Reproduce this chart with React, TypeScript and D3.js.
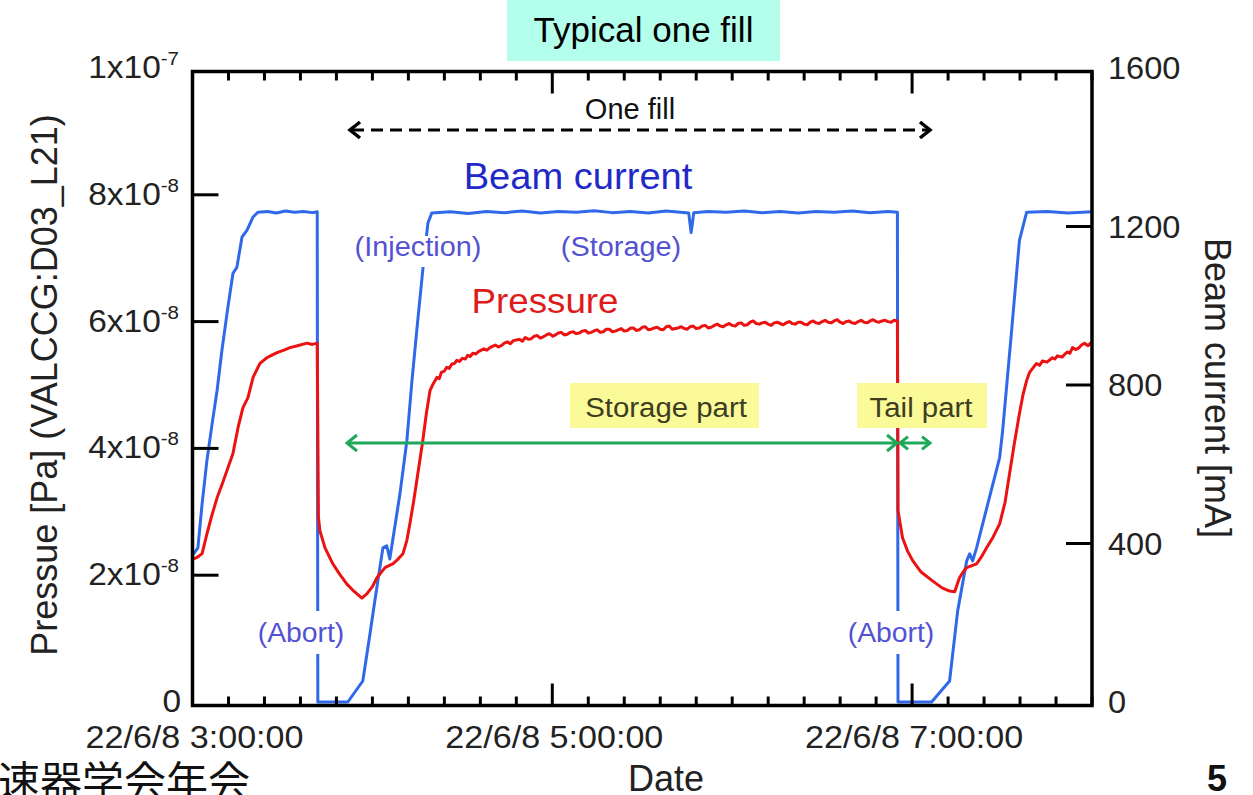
import React from 'react';
import * as d3 from 'd3';

const W = 1253;
const H = 795;
const START = new Date(2022, 5, 8, 3, 0, 0);
const END = new Date(2022, 5, 8, 8, 0, 0);
const toDate = (m: number) => new Date(START.getTime() + m * 60000);
const PRESSURE_UNIT = 1e-8;

// [minutes after 03:00, pressure in 1e-8 Pa]
const pressure: [number, number][] = [
  [0, 2.25], [1.5, 2.28], [3.2, 2.34], [4.8, 2.65], [6.5, 2.95], [8.2, 3.22], [10, 3.45], [11.5, 3.65],
  [13.5, 3.92], [15.2, 4.33], [16.8, 4.64], [18.5, 4.8], [20.2, 5.12], [22.5, 5.34], [24.8, 5.43],
  [26.5, 5.47], [28.2, 5.51], [30.5, 5.55], [32.5, 5.59], [35, 5.62], [38.2, 5.66], [40, 5.64], [41.6, 5.66],
  [42.0, 2.91], [42.5, 2.7], [44.2, 2.43], [46.8, 2.18], [49, 2.02], [51.5, 1.86], [54, 1.74], [56.5, 1.64],
  [58.2, 1.71], [60, 1.82], [61.5, 1.96], [64.2, 2.12], [65.5, 2.15], [66.8, 2.18], [68.5, 2.25], [70.2, 2.34],
  [71.5, 2.55], [72.5, 2.81], [73.8, 3.18], [74.8, 3.49], [76.8, 4.12], [78, 4.55], [79.2, 4.91], [80.3, 5.02],
  [81.5, 5.12], [82.3, 5.1], [83, 5.2], [84, 5.22], [84.8, 5.28], [85.6, 5.26], [86.5, 5.33], [87.4, 5.34],
  [88.2, 5.39], [89, 5.37], [90, 5.42], [91, 5.41], [91.8, 5.47], [92.6, 5.45], [93.5, 5.5], [94.5, 5.49],
  [95.5, 5.53], [96.3, 5.55], [97.2, 5.57], [98.2, 5.55], [99.2, 5.59], [100, 5.61], [101, 5.63], [102, 5.6],
  [103, 5.62], [104, 5.66], [105, 5.68], [106, 5.65], [107, 5.7], [108, 5.71], [109, 5.72], [110, 5.69],
  [111, 5.75], [112, 5.72], [113, 5.73], [114, 5.77], [115, 5.78], [116, 5.74], [117, 5.76], [118, 5.79],
  [119, 5.81], [120.2, 5.77], [121, 5.79], [122, 5.82], [123, 5.83], [124, 5.79], [125, 5.8], [126, 5.83],
  [127, 5.84], [128, 5.81], [129, 5.82], [130, 5.85], [131, 5.86], [132, 5.82], [133, 5.83], [134.2, 5.86],
  [135, 5.87], [136, 5.83], [137, 5.84], [138, 5.88], [139, 5.88], [140, 5.84], [141, 5.85], [142, 5.87],
  [143, 5.89], [144, 5.85], [145, 5.86], [146.2, 5.9], [147, 5.9], [148, 5.86], [149, 5.87], [150, 5.91],
  [151, 5.92], [152, 5.87], [153, 5.88], [154, 5.9], [155, 5.91], [156, 5.88], [157, 5.87], [158, 5.92],
  [159, 5.93], [160, 5.88], [161, 5.89], [162, 5.9], [163, 5.92], [164, 5.89], [165, 5.88], [166, 5.92],
  [167, 5.93], [168, 5.89], [169, 5.9], [170, 5.93], [171, 5.94], [172, 5.9], [173, 5.91], [174, 5.94],
  [175, 5.96], [176, 5.93], [177, 5.92], [178, 5.95], [179, 5.97], [180, 5.94], [181, 5.93], [182, 5.97],
  [183, 5.98], [184, 5.94], [185, 5.95], [186, 5.99], [187, 6.01], [188, 5.97], [189, 5.96], [190, 5.98],
  [191, 5.99], [192, 5.96], [193, 5.94], [194, 5.98], [195, 5.99], [196, 5.97], [197, 5.95], [198, 5.98],
  [199, 6.0], [200, 5.97], [201, 5.96], [202, 5.99], [203, 5.99], [204, 5.96], [205, 5.95], [206, 5.99],
  [207, 6.01], [208, 5.98], [209, 5.97], [210, 6.0], [211, 6.02], [212, 5.99], [213, 5.98], [214, 6.01],
  [215, 6.03], [216, 5.99], [217, 5.97], [218, 6.0], [219, 6.01], [220, 5.98], [221, 5.97], [222, 6.0],
  [223, 6.02], [224, 5.99], [225, 5.98], [226, 6.01], [227, 6.03], [228, 6.0], [229, 5.99], [230, 6.01],
  [231, 6.02], [232, 6.0], [233, 5.99], [234, 6.02], [235.1, 6.01],
  [235.3, 3.02], [236.8, 2.59], [238.5, 2.38], [240.2, 2.23], [243, 2.05], [246.8, 1.91], [250, 1.8],
  [252.5, 1.75], [254.2, 1.74], [255.8, 1.96], [257, 2.05], [258.2, 2.12], [261.5, 2.18], [263, 2.28],
  [264.8, 2.43], [267, 2.6], [269.2, 2.81], [271, 3.15], [272.5, 3.6], [274, 4.05], [275.8, 4.55], [277, 4.85],
  [278.2, 5.07], [279.2, 5.2], [280, 5.25], [281.5, 5.34], [282.5, 5.31], [283.5, 5.38], [285, 5.36],
  [286.8, 5.43], [287.6, 5.41], [288.5, 5.46], [290, 5.44], [291, 5.49], [291.8, 5.52], [292.6, 5.5],
  [293.5, 5.59], [294.5, 5.56], [295.5, 5.58], [296.5, 5.63], [297.5, 5.66], [298.7, 5.62], [300, 5.68],
];

// [minutes after 03:00, beam current in mA]
const beamCurrent: [number, number][] = [
  [0, 370], [1.8, 389], [3.2, 500], [4.8, 609], [6.5, 700], [8.2, 786], [9.8, 887], [11.8, 996], [13.5, 1082],
  [14.8, 1097], [16.5, 1173], [18.2, 1191], [20.2, 1224], [21.8, 1236], [25, 1238], [28, 1234], [31, 1239],
  [34, 1236], [37, 1238], [40, 1235], [41.6, 1237], [41.8, 0], [51.8, 0], [56.8, 53], [59.2, 172], [60.8, 255],
  [63.5, 389], [64.8, 394], [65.8, 361], [69.2, 526], [71.5, 660], [73.2, 811], [74.8, 938], [76.8, 1090],
  [78.5, 1208], [79.8, 1234], [86, 1237], [92, 1233], [98, 1238], [104, 1235], [110, 1239], [116, 1234],
  [122, 1238], [128, 1236], [134, 1240], [140, 1235], [146, 1238], [152, 1234], [158, 1239], [165.5, 1234],
  [166.3, 1185], [167.2, 1235], [172, 1238], [178, 1236], [184, 1239], [190, 1235], [196, 1238], [202, 1234],
  [208, 1238], [214, 1236], [220, 1239], [226, 1235], [232, 1238], [235.1, 1236], [235.3, 0], [246.5, 0],
  [252.5, 53], [255.2, 230], [258.2, 356], [259.2, 374], [260.2, 356], [261.5, 389], [269.2, 617], [270.2, 685],
  [273.2, 938], [275.8, 1165], [278.2, 1236], [285, 1238], [292, 1234], [300, 1237],
];

const pressureTicks = [0, 2e-8, 4e-8, 6e-8, 8e-8, 1e-7];
const pressureTickMantissa = ['0', '2x10', '4x10', '6x10', '8x10', '1x10'];
const pressureTickExponent = ['', '-8', '-8', '-8', '-8', '-7'];
const currentTicks = [0, 400, 800, 1200, 1600];
const majorTickMinutes = [0, 120, 240];
const timeTickLabels = ['22/6/8 3:00:00', '22/6/8 5:00:00', '22/6/8 7:00:00'];

const FONT = "'Liberation Sans', Arial, Helvetica, sans-serif";
const BLUE = '#3068ea';
const RED = '#ec1212';
const GREEN = '#1fa85a';
const LABEL_BLUE = '#5252d2';

export default function App() {
  const FL = 192.5, FR = 1092, FT = 71.5, FB = 705.5;
  const x = d3.scaleTime().domain([START, END]).range([FL, FR]);
  const yP = d3.scaleLinear().domain([0, 1e-7]).range([702, 68]);
  const yC = d3.scaleLinear().domain([0, 1600]).range([702, 68]);

  const currentLine = d3.line<[number, number]>().x(d => x(toDate(d[0]))).y(d => yC(d[1]));
  const pressureLine = d3.line<[number, number]>().x(d => x(toDate(d[0]))).y(d => yP(d[1] * PRESSURE_UNIT));

  const minorMinutes = d3.range(0, 301, 12).filter(m => !majorTickMinutes.includes(m));
  const SX = 1.08;

  const chevL = (tx: number, ty: number, s: number) => `M${tx + s},${ty - s * 0.8} L${tx},${ty} L${tx + s},${ty + s * 0.8}`;
  const chevR = (tx: number, ty: number, s: number) => `M${tx - s},${ty - s * 0.8} L${tx},${ty} L${tx - s},${ty + s * 0.8}`;

  return (
    <svg width={W} height={H} style={{ position: 'absolute', left: 0, top: 0, background: '#fff' }} fontFamily={FONT}>
      <rect x={0} y={0} width={W} height={H} fill="#fff" />

      {/* Title */}
      <rect x={507} y={0} width={273} height={61} fill="#b4ffeb" />
      <text x={643.5} y={42} fontSize={35} textAnchor="middle" fill="#000">Typical one fill</text>

      {/* Data lines */}
      <path d={currentLine(beamCurrent) || ''} fill="none" stroke={BLUE} strokeWidth={3} strokeLinejoin="round" />
      <path d={pressureLine(pressure) || ''} fill="none" stroke={RED} strokeWidth={3} strokeLinejoin="round" />

      {/* Frame */}
      <rect x={FL} y={FT} width={FR - FL} height={FB - FT} fill="none" stroke="#000" strokeWidth={3.5} />

      {/* X ticks */}
      {majorTickMinutes.map(m => (
        <g key={'M' + m}>
          <line x1={x(toDate(m))} x2={x(toDate(m))} y1={FB} y2={FB - 22} stroke="#000" strokeWidth={3} />
          <line x1={x(toDate(m))} x2={x(toDate(m))} y1={FT} y2={FT + 22} stroke="#000" strokeWidth={3} />
        </g>
      ))}
      {minorMinutes.map(m => (
        <g key={'m' + m}>
          <line x1={x(toDate(m))} x2={x(toDate(m))} y1={FB} y2={FB - 9} stroke="#000" strokeWidth={3} />
          <line x1={x(toDate(m))} x2={x(toDate(m))} y1={FT} y2={FT + 9} stroke="#000" strokeWidth={3} />
        </g>
      ))}
      {majorTickMinutes.map((m, i) => (
        <text key={'xl' + m} transform={`translate(${x(toDate(m)) + 2},748) scale(1.1,1)`} fontSize={31} textAnchor="middle" fill="#222">
          {timeTickLabels[i]}
        </text>
      ))}

      {/* Left axis ticks */}
      {pressureTicks.map((v, i) => (
        <g key={'yl' + i}>
          {v > 0 && v < 1e-7 && <line x1={FL} x2={FL + 26} y1={yP(v)} y2={yP(v)} stroke="#000" strokeWidth={3} />}
          <text transform={`translate(${v === 0 ? 181 : 179},${yP(v) + 10}) scale(${SX},1)`} fontSize={31} textAnchor="end" fill="#222">
            <tspan>{pressureTickMantissa[i]}</tspan>
            {pressureTickExponent[i] && <tspan dy={-13} fontSize={19}>{pressureTickExponent[i]}</tspan>}
          </text>
        </g>
      ))}

      {/* Right axis ticks */}
      {currentTicks.map((v, i) => (
        <g key={'yr' + i}>
          {v > 0 && v < 1600 && <line x1={FR - 26} x2={FR} y1={yC(v)} y2={yC(v)} stroke="#000" strokeWidth={3} />}
          <text transform={`translate(1108,${yC(v) + 11}) scale(1.05,1)`} fontSize={31} fill="#222">{v}</text>
        </g>
      ))}

      {/* Axis titles */}
      <text transform="translate(57,385) rotate(-90)" fontSize={36} textAnchor="middle" fill="#222">Pressue [Pa] (VALCCG:D03_L21)</text>
      <text transform="translate(1205,388) rotate(90)" fontSize={36} textAnchor="middle" fill="#222">Beam current [mA]</text>
      <text x={666} y={791} fontSize={36} textAnchor="middle" fill="#222">Date</text>

      {/* Annotations */}
      <text x={630} y={119} fontSize={29} textAnchor="middle" fill="#111">One fill</text>
      <line x1={352} x2={928} y1={130} y2={130} stroke="#000" strokeWidth={3} strokeDasharray="12,7" />
      <path d={chevL(350, 130, 10)} fill="none" stroke="#000" strokeWidth={3.5} />
      <path d={chevR(930, 130, 10)} fill="none" stroke="#000" strokeWidth={3.5} />

      <text transform="translate(578,189) scale(1.03,1)" fontSize={37} textAnchor="middle" fill="#1f29c6">Beam current</text>

      <rect x={350} y={236} width={135} height={31} fill="#fff" />
      <text transform="translate(418,256) scale(1.07,1)" fontSize={27} textAnchor="middle" fill={LABEL_BLUE}>(Injection)</text>
      <text transform="translate(621,256) scale(1.07,1)" fontSize={27} textAnchor="middle" fill={LABEL_BLUE}>(Storage)</text>

      <text transform="translate(545,313) scale(1.05,1)" fontSize={35} textAnchor="middle" fill="#e01a1a">Pressure</text>

      <rect x={256} y={611} width={92} height={43} fill="#fff" />
      <text transform="translate(301,642) scale(1.05,1)" fontSize={27} textAnchor="middle" fill={LABEL_BLUE}>(Abort)</text>
      <rect x={845} y={611} width={92} height={43} fill="#fff" />
      <text transform="translate(891,642) scale(1.05,1)" fontSize={27} textAnchor="middle" fill={LABEL_BLUE}>(Abort)</text>

      <rect x={570} y={383} width={189} height={45} fill="#fafa98" />
      <text transform="translate(666,417) scale(1.05,1)" fontSize={28} textAnchor="middle" fill="#3d3d22">Storage part</text>
      <rect x={857} y={383} width={130} height={45} fill="#fafa98" />
      <text transform="translate(921,417) scale(1.05,1)" fontSize={28} textAnchor="middle" fill="#3d3d22">Tail part</text>

      <line x1={348} x2={896} y1={443} y2={443} stroke={GREEN} strokeWidth={3} />
      <path d={chevL(347, 443, 10)} fill="none" stroke={GREEN} strokeWidth={3} />
      <path d={chevR(897, 443, 10)} fill="none" stroke={GREEN} strokeWidth={3} />
      <line x1={901} x2={929} y1={443} y2={443} stroke={GREEN} strokeWidth={3} />
      <path d={chevL(900, 443, 8)} fill="none" stroke={GREEN} strokeWidth={3} />
      <path d={chevR(930, 443, 8)} fill="none" stroke={GREEN} strokeWidth={3} />

      {/* Slide footer */}
      <text x={-2} y={797} fontSize={42} fontFamily="'Noto Sans CJK JP', sans-serif" fill="#111">速器学会年会</text>
      <text x={1217} y={791} fontSize={36} fontWeight="bold" textAnchor="middle" fill="#111">5</text>
    </svg>
  );
}
